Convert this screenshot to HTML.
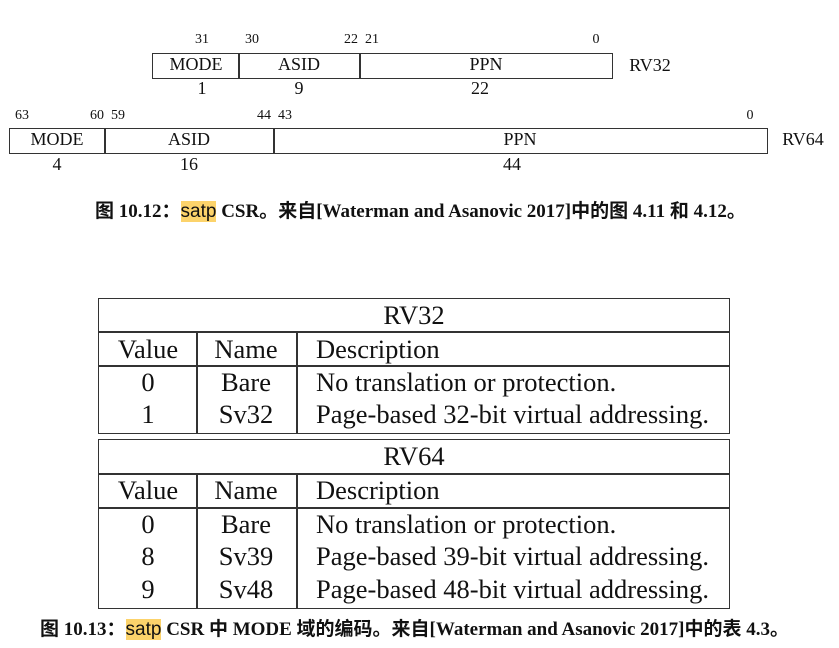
<!DOCTYPE html>
<html><head><meta charset="utf-8"><style>
body{margin:0;width:839px;height:648px;background:#fff;position:relative;overflow:hidden;font-family:"Liberation Serif","Noto Serif CJK SC",serif;color:#111}
.t{position:absolute;transform:translate(-50%,-50%);white-space:nowrap;line-height:1}
.b{position:absolute;border:1px solid #333;box-sizing:border-box}
.v{position:absolute;width:1.5px;background:#333}
.h{position:absolute;height:1.5px;background:#333}
.s13{font-size:14px}.s17{font-size:18px}.s18{font-size:18px}.s24{font-size:26.5px}
.cap{position:absolute;font-weight:bold;font-size:19px;white-space:nowrap;font-family:"Liberation Serif","Noto Sans CJK SC",serif;transform-origin:0 50%;line-height:20px}
.hl{background:#fcd36b;font-weight:normal;font-family:"Liberation Sans",sans-serif}
.l{position:absolute;white-space:nowrap;line-height:1;transform:translateY(-50%);font-size:26.5px}
</style></head><body>
<!-- RV32 -->
<div class="b" style="left:152px;top:53px;width:461px;height:26px"></div>
<div class="v" style="left:238px;top:53px;height:26px"></div>
<div class="v" style="left:359px;top:53px;height:26px"></div>
<div class="t s13" style="left:202px;top:40px">31</div>
<div class="t s13" style="left:252px;top:40px">30</div>
<div class="t s13" style="left:351px;top:40px">22</div>
<div class="t s13" style="left:372px;top:40px">21</div>
<div class="t s13" style="left:596px;top:40px">0</div>
<div class="t s17" style="left:196px;top:64px">MODE</div>
<div class="t s17" style="left:299px;top:64px">ASID</div>
<div class="t s17" style="left:486px;top:64px">PPN</div>
<div class="t s18" style="left:202px;top:88px">1</div>
<div class="t s18" style="left:299px;top:88px">9</div>
<div class="t s18" style="left:480px;top:88px">22</div>
<div class="t s18" style="left:650px;top:65px">RV32</div>
<!-- RV64 -->
<div class="b" style="left:9px;top:128px;width:759px;height:26px"></div>
<div class="v" style="left:104px;top:128px;height:26px"></div>
<div class="v" style="left:273px;top:128px;height:26px"></div>
<div class="t s13" style="left:22px;top:116px">63</div>
<div class="t s13" style="left:97px;top:116px">60</div>
<div class="t s13" style="left:118px;top:116px">59</div>
<div class="t s13" style="left:264px;top:116px">44</div>
<div class="t s13" style="left:285px;top:116px">43</div>
<div class="t s13" style="left:750px;top:116px">0</div>
<div class="t s17" style="left:57px;top:139px">MODE</div>
<div class="t s17" style="left:189px;top:139px">ASID</div>
<div class="t s17" style="left:520px;top:139px">PPN</div>
<div class="t s18" style="left:57px;top:164px">4</div>
<div class="t s18" style="left:189px;top:164px">16</div>
<div class="t s18" style="left:512px;top:164px">44</div>
<div class="t s18" style="left:803px;top:139px">RV64</div>
<div class="cap" style="left:95px;top:202px">图 10.12：<span class="hl">satp</span> CSR。来自[Waterman and Asanovic 2017]中的图 4.11 和 4.12。</div>

<!-- Table RV32 -->
<div class="b" style="left:98px;top:298px;width:632px;height:136px;border-width:1.5px"></div>
<div class="h" style="left:98px;top:331px;width:632px"></div>
<div class="h" style="left:98px;top:365px;width:632px"></div>
<div class="v" style="left:196px;top:331px;height:103px"></div>
<div class="v" style="left:296px;top:331px;height:103px"></div>
<div class="t s24" style="left:414px;top:315px">RV32</div>
<div class="t s24" style="left:148px;top:349px">Value</div>
<div class="t s24" style="left:246px;top:349px">Name</div>
<div class="l" style="left:316px;top:349px">Description</div>
<div class="t s24" style="left:148px;top:382px">0</div>
<div class="t s24" style="left:246px;top:382px">Bare</div>
<div class="l" style="left:316px;top:382px">No translation or protection.</div>
<div class="t s24" style="left:148px;top:414px">1</div>
<div class="t s24" style="left:246px;top:414px">Sv32</div>
<div class="l" style="left:316px;top:414px">Page-based 32-bit virtual addressing.</div>
<!-- Table RV64 -->
<div class="b" style="left:98px;top:439px;width:632px;height:170px;border-width:1.5px"></div>
<div class="h" style="left:98px;top:473px;width:632px"></div>
<div class="h" style="left:98px;top:507px;width:632px"></div>
<div class="v" style="left:196px;top:473px;height:136px"></div>
<div class="v" style="left:296px;top:473px;height:136px"></div>
<div class="t s24" style="left:414px;top:456px">RV64</div>
<div class="t s24" style="left:148px;top:490px">Value</div>
<div class="t s24" style="left:246px;top:490px">Name</div>
<div class="l" style="left:316px;top:490px">Description</div>
<div class="t s24" style="left:148px;top:524px">0</div>
<div class="t s24" style="left:246px;top:524px">Bare</div>
<div class="l" style="left:316px;top:524px">No translation or protection.</div>
<div class="t s24" style="left:148px;top:556px">8</div>
<div class="t s24" style="left:246px;top:556px">Sv39</div>
<div class="l" style="left:316px;top:556px">Page-based 39-bit virtual addressing.</div>
<div class="t s24" style="left:148px;top:589px">9</div>
<div class="t s24" style="left:246px;top:589px">Sv48</div>
<div class="l" style="left:316px;top:589px">Page-based 48-bit virtual addressing.</div>
<div class="cap" style="left:40px;top:620px">图 10.13：<span class="hl">satp</span> CSR 中 MODE 域的编码。来自[Waterman and Asanovic 2017]中的表 4.3。</div>
</body></html>
